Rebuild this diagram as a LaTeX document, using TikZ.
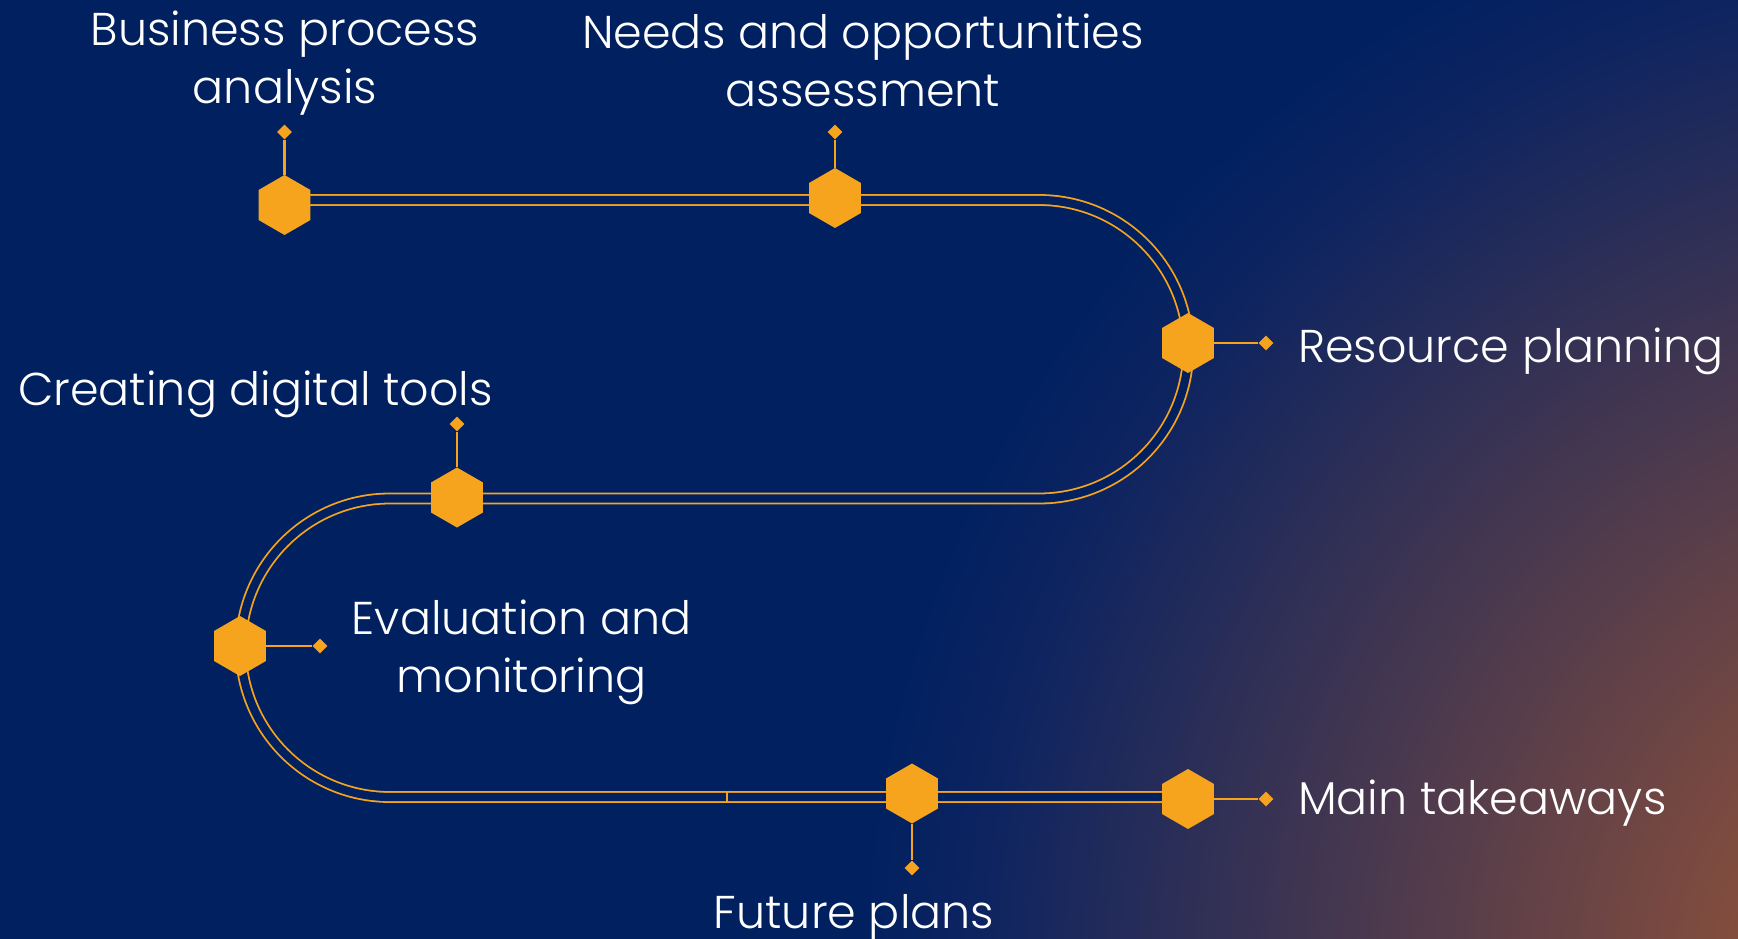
\documentclass[tikz,border=0pt]{standalone}
\usepackage{fontspec}
\setmainfont{Poppins}[UprightFont=* Light]
\usetikzlibrary{shapes.geometric}
\definecolor{navy}{HTML}{002060}
\definecolor{acc}{HTML}{F6A31D}
\definecolor{bgA}{HTML}{8E5139}
\definecolor{bgB}{HTML}{844D3D}
\definecolor{bgC}{HTML}{0E2460}
\pgfdeclareradialshading{bgrad}{\pgfpoint{0bp}{0bp}}{color(0bp)=(bgA); color(5.46bp)=(bgB); color(21.25bp)=(bgC); color(23.96bp)=(navy); color(50bp)=(navy)}
\tikzset{
  hexa/.style={regular polygon, regular polygon sides=6, shape border rotate=30, fill=acc, draw=none, inner sep=0pt, minimum size=60pt},
  dia/.style={diamond, fill=acc, draw=none, inner sep=0pt, minimum width=15pt, minimum height=15pt},
  conn/.style={draw=acc, line width=2.5pt},
  track/.style={draw=acc, line width=1.8pt, double=navy, double distance=8.2pt},
  lab/.style={text=white, inner sep=0pt, font=\fontsize{46}{58}\selectfont}
}
\begin{document}
\begin{tikzpicture}[x=1pt,y=-1pt]
\useasboundingbox (0,0) rectangle (1738,939);
\fill[navy] (0,0) rectangle (1738,939);
\begin{scope}
\clip (0,0) rectangle (1738,939);
\shade[shading=bgrad] (2000,987) circle[radius=1200pt];
\end{scope}
% track
\draw[track] (285,200) -- (1039,200) arc[start angle=90,end angle=-90,radius=149.25pt]
  -- (390,498.5) arc[start angle=90,end angle=270,radius=149.25pt] -- (1188,797);
\coordinate (tk1) at (727,792);
\coordinate (tk2) at (727,802);
\draw[draw=acc, line width=1.5pt] (tk1) -- (tk2);
% hexagons
\node[hexa] (h1) at (284.5,205) {};
\node[hexa] (h2) at (835,198) {};
\node[hexa] (h3) at (1188,343) {};
\node[hexa] (h4) at (457,497.5) {};
\node[hexa] (h5) at (240,646) {};
\node[hexa] (h6) at (912,793.5) {};
\node[hexa] (h7) at (1188,799) {};
% diamonds
\node[dia] (d1) at (284.5,132) {};
\node[dia] (d2) at (835,132) {};
\node[dia] (d3) at (1266,343) {};
\node[dia] (d4) at (457,424) {};
\node[dia] (d5) at (320,646) {};
\node[dia] (d6) at (912,868) {};
\node[dia] (d7) at (1266,799) {};
\draw[conn] (h1) -- (d1);
\draw[conn] (h2) -- (d2);
\draw[conn] (h3) -- (d3);
\draw[conn] (h4) -- (d4);
\draw[conn] (h5) -- (d5);
\draw[conn] (h6) -- (d6);
\draw[conn] (h7) -- (d7);
% labels (anchor=base of a two-line node is the baseline of its last line)
\node[lab, anchor=base, align=center] (t1) at (285,104) {Business process\\analysis};
\node[lab, anchor=base, align=center] (t2) at (863,107) {Needs and opportunities\\assessment};
\node[lab, anchor=base west] (t3) at (1298,362) {Resource planning};
\node[lab, anchor=base west] (t4) at (18,405) {Creating digital tools};
\node[lab, anchor=base, align=center] (t5) at (521.5,692) {Evaluation and\\monitoring};
\node[lab, anchor=base west] (t6) at (1298,814) {Main takeaways};
\node[lab, anchor=base] (t7) at (854,928) {Future plans};
\end{tikzpicture}
\end{document}
